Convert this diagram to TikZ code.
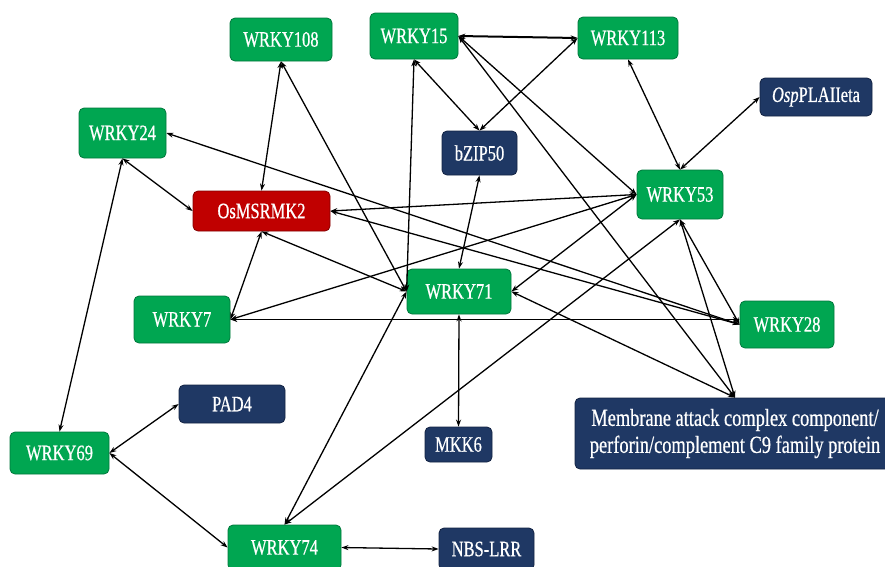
\documentclass[tikz,border=0pt]{standalone}
\usepackage{fontspec}
\setmainfont{Liberation Serif}[FakeStretch=0.75,FakeBold=0.6]
\usetikzlibrary{arrows.meta}
\definecolor{gbox}{RGB}{0,166,81}
\definecolor{gline}{RGB}{0,120,60}
\definecolor{nbox}{RGB}{31,56,100}
\definecolor{nline}{RGB}{18,34,66}
\definecolor{rbox}{RGB}{192,0,0}
\definecolor{rline}{RGB}{130,0,0}
\tikzset{
  box/.style={rounded corners=5pt, inner sep=0pt, text=white, line width=0.8pt,
    font=\fontsize{22}{27}\selectfont, align=center},
  gnode/.style={box, fill=gbox, draw=gline},
  nnode/.style={box, fill=nbox, draw=nline},
  rnode/.style={box, fill=rbox, draw=rline},
  link/.style={line width=1.3pt, black, {Stealth[length=7pt,width=5pt]}-{Stealth[length=7pt,width=5pt]}},
  thicklink/.style={link, line width=2pt}
}
\begin{document}
\begin{tikzpicture}[x=1pt,y=-1pt]
\useasboundingbox (0,0) rectangle (885,566);
\clip (0,0) rectangle (885,566);
% nodes
\node[gnode, minimum width=102pt, minimum height=43pt] (w108) at (281,39.5) {WRKY108};
\node[gnode, minimum width=88pt, minimum height=46pt] (w15) at (414,36) {WRKY15};
\node[gnode, minimum width=100pt, minimum height=42pt] (w113) at (628,38) {WRKY113};
\node[nnode, minimum width=112pt, minimum height=38pt] (pla) at (816,97) {\textit{Osp}PLAIIeta};
\node[gnode, minimum width=87pt, minimum height=50pt] (w24) at (122.5,133) {WRKY24};
\node[nnode, minimum width=75pt, minimum height=44pt] (bzip) at (479.5,153) {bZIP50};
\node[gnode, minimum width=86pt, minimum height=49pt] (w53) at (680,194.5) {WRKY53};
\node[rnode, minimum width=137pt, minimum height=40pt] (os) at (261.5,211) {OsMSRMK2};
\node[gnode, minimum width=104pt, minimum height=45pt] (w71) at (459,291.5) {WRKY71};
\node[gnode, minimum width=96pt, minimum height=47pt] (w7) at (182,319.5) {WRKY7};
\node[gnode, minimum width=94pt, minimum height=47pt] (w28) at (787,324.5) {WRKY28};
\node[nnode, minimum width=106pt, minimum height=38pt] (pad) at (232,404) {PAD4};
\node[nnode, minimum width=67pt, minimum height=35pt] (mkk) at (458.5,444.5) {MKK6};
\node[nnode, minimum width=320pt, minimum height=71pt, font=\fontsize{24.5}{27}\selectfont] (mem) at (735,433.5) {Membrane attack complex component/\\perforin/complement C9 family protein};
\node[gnode, minimum width=99pt, minimum height=42pt] (w69) at (59.5,453) {WRKY69};
\node[gnode, minimum width=113pt, minimum height=45pt] (w74) at (284.5,547.5) {WRKY74};
\node[nnode, minimum width=95pt, minimum height=42pt] (nbs) at (486.5,549) {NBS-LRR};
% connectors
\draw[link] (w108.south) -- (os.north);
\draw[link] (w108.south) -- (w71.west);
\draw[thicklink] (w15.east) -- (w113.west);
\draw[link] (w15.south) -- (bzip.north);
\draw[link] (w113.west) -- (bzip.north);
\draw[link] (w15.south) -- (w71.west);
\draw[link] (w15.east) -- (w53.west);
\draw[link] (w15.east) -- (mem.north);
\draw[link] (w113.south) -- (w53.north);
\draw[link] (pla.west) -- (w53.north);
\draw[link] (bzip.south) -- (w71.north);
\draw[link] (w24.south) -- (os.west);
\draw[link] (w24.south) -- (w69.north);
\draw[link] (w24.east) -- (w28.west);
\draw[link] (os.east) -- (w53.west);
\draw[link] (os.east) -- (w28.west);
\draw[link] (os.south) -- (w7.east);
\draw[link] (os.south) -- (w71.west);
\draw[link] (w7.east) -- (w53.west);
\draw[link] (w7.east) -- (w28.west |- w7.east);
\draw[link] (w53.south) -- (mem.north);
\draw[link] (w53.south) -- (w28.west);
\draw[link] (w53.west) -- (w71.east);
\draw[link] (w74.north) -- (w53.south);
\draw[link] (w74.north) -- (w71.west);
\draw[link] (w71.east) -- (mem.north);
\draw[link] (w71.south) -- (mkk.north);
\draw[link] (w69.east) -- (pad.west);
\draw[link] (w69.east) -- (w74.west);
\draw[link] (w74.east) -- (nbs.west);
\end{tikzpicture}
\end{document}
